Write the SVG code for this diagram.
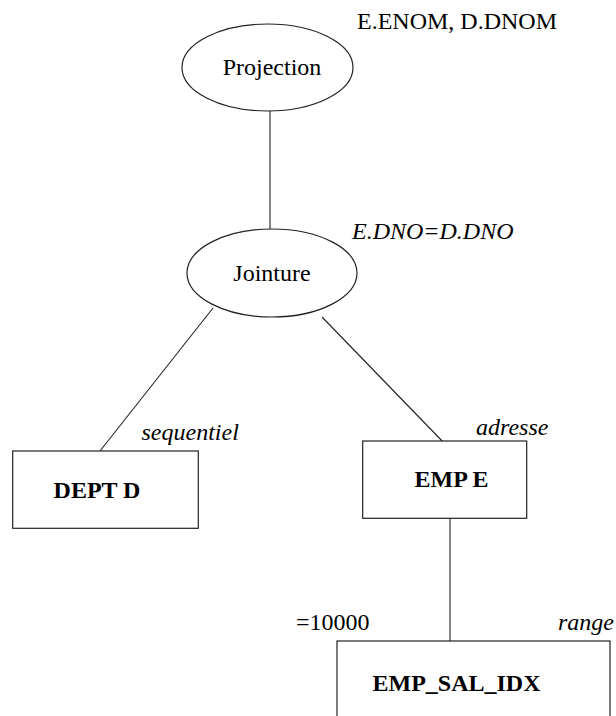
<svg xmlns="http://www.w3.org/2000/svg" width="616" height="716" viewBox="0 0 616 716">
<style>
.shape{fill:#fff;stroke:#222;stroke-width:1.2}
.conn line{stroke:#222;stroke-width:1.1}
text{font-family:"Liberation Serif","Times New Roman",serif;font-size:24px;fill:#000}
.b{font-weight:bold}
.i{font-style:italic}
.m{text-anchor:middle}
</style>
<rect width="616" height="716" fill="#fff"/>
<g id="connectors" class="conn">
<line x1="270" y1="111" x2="270" y2="229"/>
<line x1="213" y1="308" x2="100" y2="451"/>
<line x1="322" y1="317" x2="446" y2="445"/>
<line x1="450" y1="518" x2="450" y2="641"/>
</g>
<g id="projection">
<ellipse class="shape" cx="267.5" cy="67.5" rx="85.5" ry="43.5"/>
<text class="m" x="272" y="75">Projection</text>
</g>
<text x="357" y="28.5">E.ENOM, D.DNOM</text>
<g id="jointure">
<ellipse class="shape" cx="272" cy="273" rx="85" ry="44"/>
<text class="m" x="272" y="281">Jointure</text>
</g>
<text class="i" x="352" y="239">E.DNO=D.DNO</text>
<g id="dept">
<rect class="shape" x="12.7" y="451" width="185.6" height="77.3"/>
<text class="b m" x="97" y="498">DEPT D</text>
</g>
<text class="i" x="141.5" y="440">sequentiel</text>
<g id="emp">
<rect class="shape" x="362.7" y="441" width="164" height="77.3"/>
<text class="b m" x="451.5" y="487">EMP E</text>
</g>
<text class="i" x="476" y="435">adresse</text>
<g id="idx">
<rect class="shape" x="337" y="641" width="273" height="90"/>
<text class="b m" x="456.5" y="691">EMP_SAL_IDX</text>
</g>
<text x="296" y="630">=10000</text>
<text class="i" x="558" y="630">range</text>
</svg>
